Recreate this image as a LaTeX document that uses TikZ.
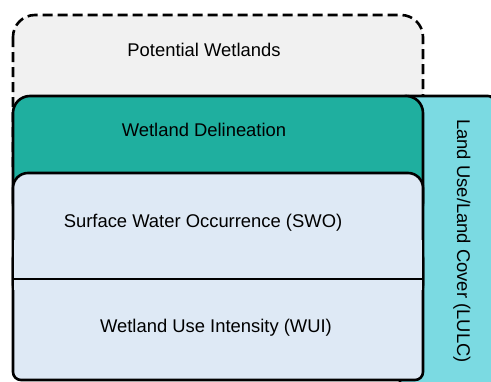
\documentclass[tikz,border=0pt]{standalone}
\usepackage{fontspec}
\setmainfont{Liberation Sans}
\definecolor{potgray}{HTML}{F1F1F1}
\definecolor{delteal}{HTML}{1FAF9F}
\definecolor{layerblue}{HTML}{DEE9F5}
\definecolor{lulccyan}{HTML}{7BDAE2}
\tikzset{
  >=latex,
}
\tikzstyle{layer}=[line width=2.6pt,draw=black]
\tikzstyle{potential}=[line width=2.6pt,draw=black,fill=potgray,dash pattern=on 10pt off 5pt]
\tikzstyle{every node}=[font=\fontsize{18.4}{22}\selectfont]

\begin{document}
\begin{tikzpicture}[x=1pt,y=-1pt]
        \useasboundingbox (0,0) rectangle (491,381);
        \draw[potential,rounded corners=22] (13,15) rectangle (423,190);
        \draw[layer,fill=lulccyan,rounded corners=6] (400,96) rectangle (494,400);
        \draw[layer,fill=delteal,rounded corners=17] (13,96) rectangle (423,220);
        \draw[layer,fill=layerblue,rounded corners=15] (13,173) rectangle (423,300);
        \draw[layer,fill=layerblue,rounded corners=8] (13,250) rectangle (423,380);
        \fill[layerblue] (14.3,240) rectangle (421.7,290);
        \draw[layer] (13,240) -- (13,290) (423,240) -- (423,290);
        \draw[layer] (13,279) -- (423,279);
        \node (pot) at (204,50) {Potential Wetlands};
        \node (del) at (204,130) {Wetland Delineation};
        \node (swo) at (203,223) {Surface Water Occurrence (SWO)};
        \node (wui) at (216,328) {Wetland Use Intensity (WUI)};
        \node[rotate=-90] (lulc) at (462,241) {Land Use/Land Cover (LULC)};
      \end{tikzpicture}
\end{document}
